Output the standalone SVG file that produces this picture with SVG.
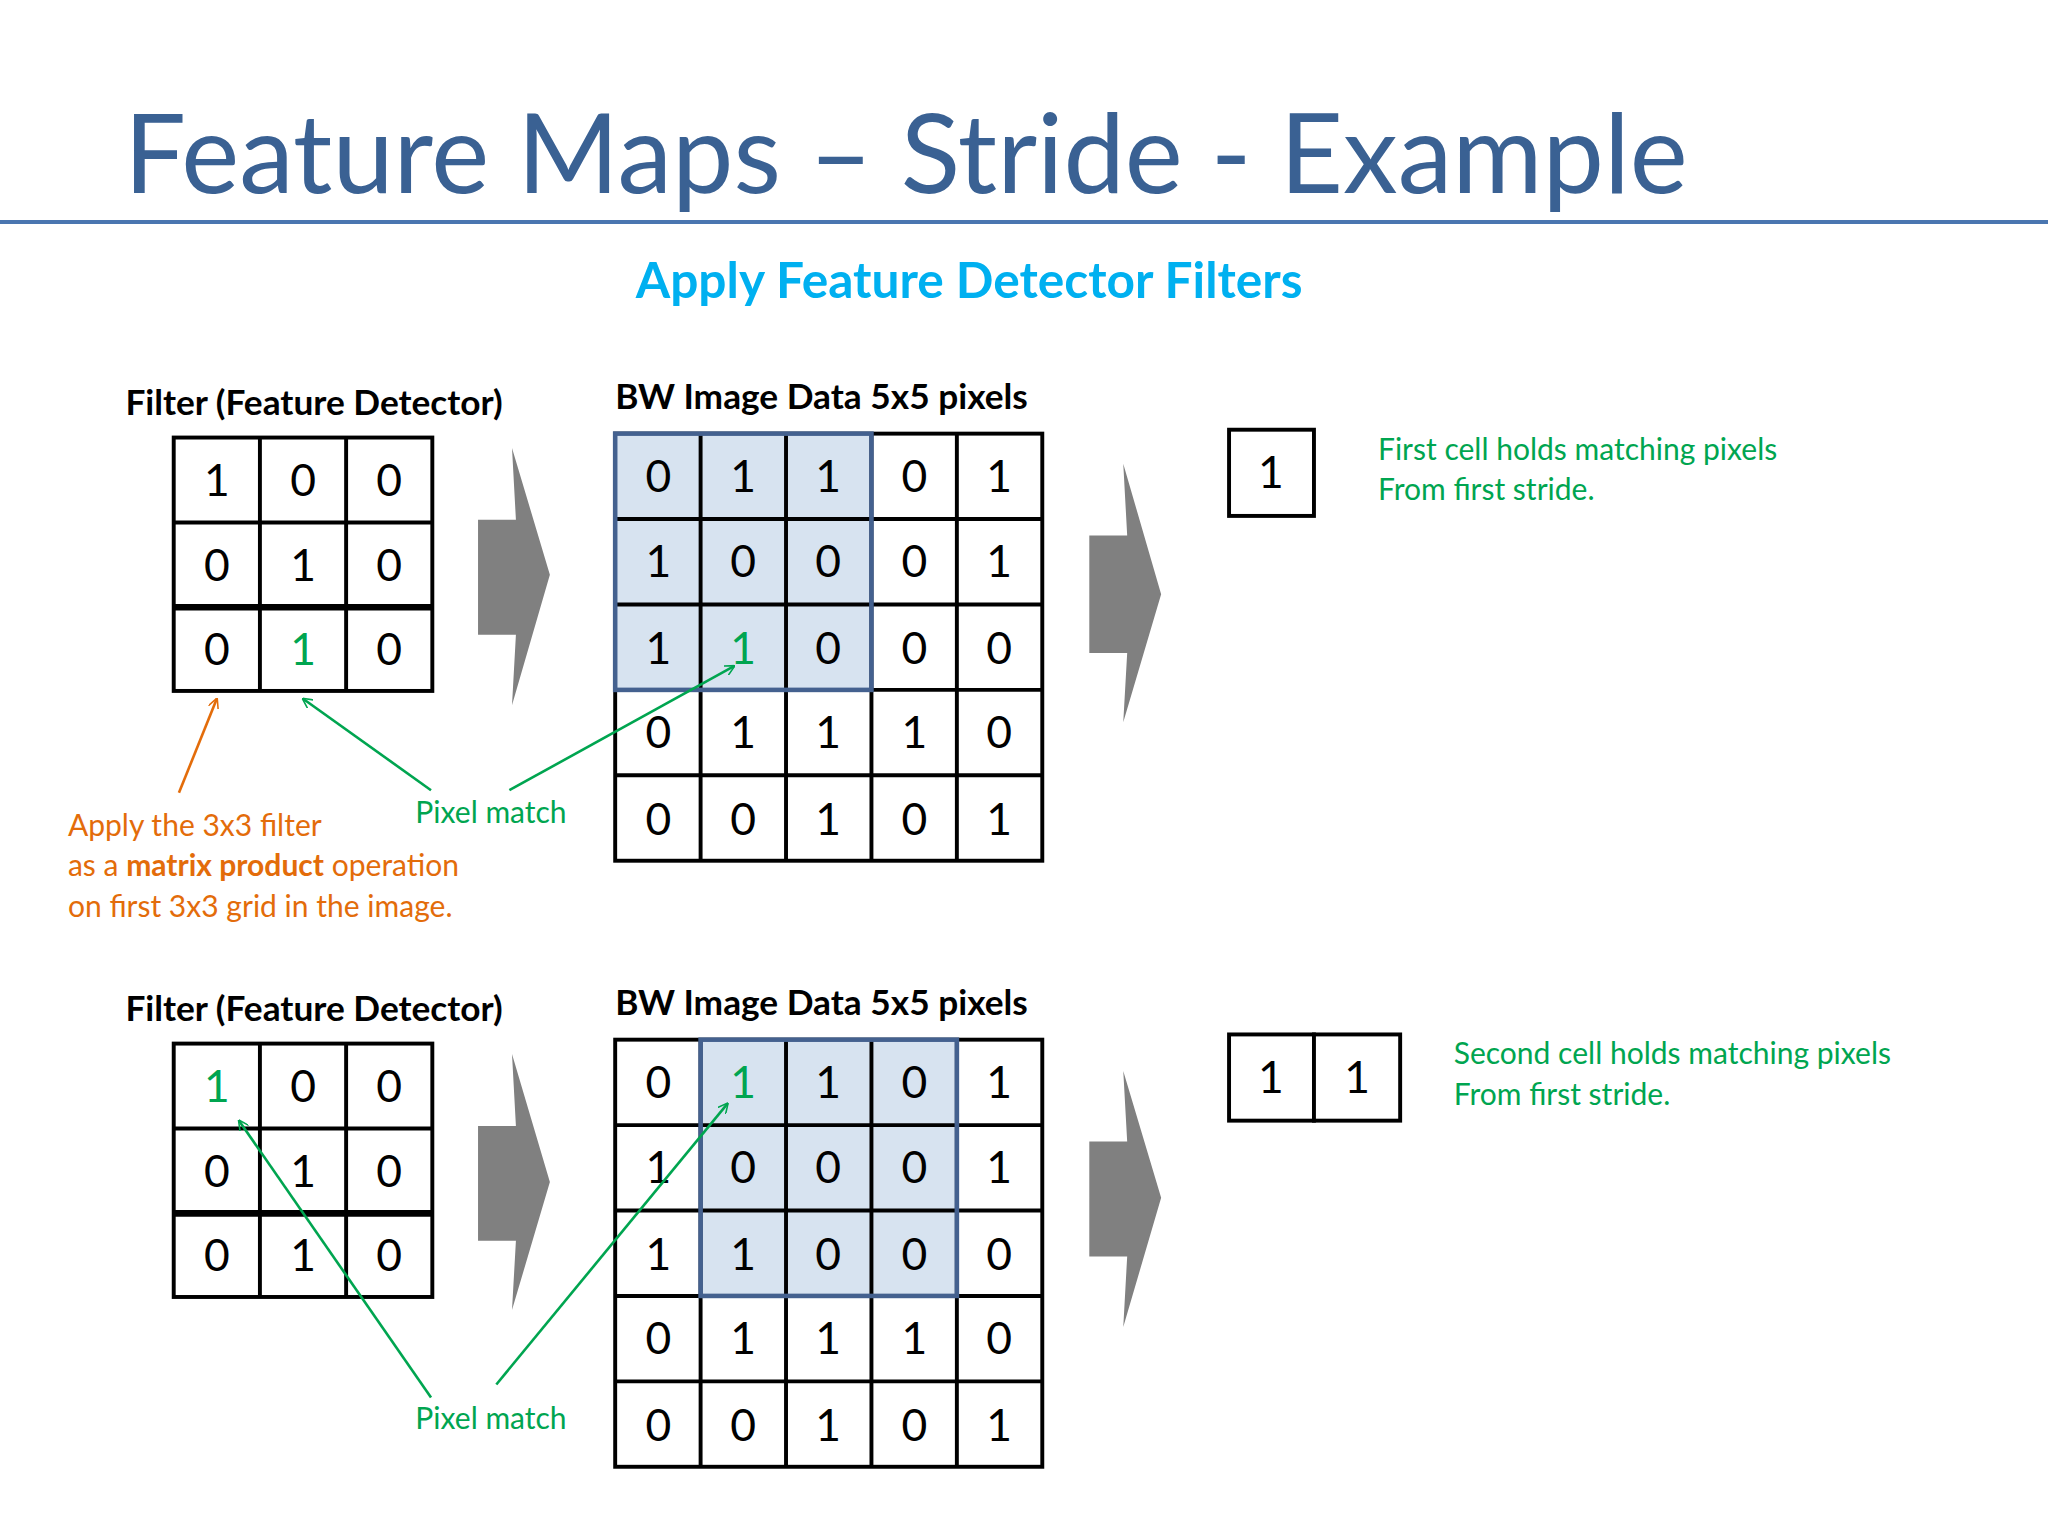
<svg xmlns="http://www.w3.org/2000/svg" width="2048" height="1536" viewBox="0 0 2048 1536">
<defs>
<style>
.t{font-family:Lato,"Open Sans",sans-serif}
.n{font-family:Lato,"Open Sans",sans-serif;font-size:34px;text-anchor:middle;fill:#000}
.g{fill:#00a550}
.c{fill:#fff;stroke:#000;stroke-width:3}
.hl{fill:#d7e3f0}
.hb{fill:none;stroke:#44618f;stroke-width:3.5}
.ar{fill:#808080}
.gl{stroke:#00a550;stroke-width:2;fill:none}
.lb{font-family:Lato,"Open Sans",sans-serif;font-size:27px;font-weight:bold}
.gt{font-family:Lato,"Open Sans",sans-serif;font-size:23px;fill:#00a550}
.ot{font-family:Lato,"Open Sans",sans-serif;font-size:23px;fill:#e36c0a}
</style>
<marker id="ag" viewBox="0 0 10 10" refX="9" refY="5" markerWidth="8" markerHeight="8" orient="auto" markerUnits="userSpaceOnUse"><path d="M0,0 L10,5 L0,10" fill="none" stroke="#00a550" stroke-width="1.5"/></marker>
<marker id="ao" viewBox="0 0 10 10" refX="9" refY="5" markerWidth="8" markerHeight="8" orient="auto" markerUnits="userSpaceOnUse"><path d="M0,0 L10,5 L0,10" fill="none" stroke="#e36c0a" stroke-width="1.5"/></marker>
</defs>
<rect width="2048" height="1536" fill="#fff"/>
<g transform="scale(1.30612)">
<g id="title">
<text class="t" x="95" y="148" font-size="84" fill="#3a6193">Feature Maps – Stride - Example</text>
<line x1="0" y1="170" x2="1568" y2="170" stroke="#4a76b0" stroke-width="3"/>
<text class="t" x="742" y="228" font-size="38" font-weight="bold" fill="#00b0f0" text-anchor="middle">Apply Feature Detector Filters</text>
</g>

<!-- Panel 1 -->
<g id="filter1">
<text class="lb" x="96" y="318">Filter (Feature Detector)</text>
<rect class="c" x="133" y="335" width="198" height="194"/>
<line x1="199" y1="335" x2="199" y2="529" stroke="#000" stroke-width="3"/>
<line x1="265" y1="335" x2="265" y2="529" stroke="#000" stroke-width="3"/>
<line x1="133" y1="400" x2="331" y2="400" stroke="#000" stroke-width="3"/>
<line x1="133" y1="465" x2="331" y2="465" stroke="#000" stroke-width="5"/>
<text class="n" x="166" y="380">1</text><text class="n" x="232" y="380">0</text><text class="n" x="298" y="380">0</text>
<text class="n" x="166" y="445">0</text><text class="n" x="232" y="445">1</text><text class="n" x="298" y="445">0</text>
<text class="n" x="166" y="509">0</text><text class="n g" x="232" y="509">1</text><text class="n" x="298" y="509">0</text>
</g>
<g id="image1">
<text class="lb" x="471" y="313">BW Image Data 5x5 pixels</text>
<rect class="c" x="471" y="332" width="327" height="327"/>
<rect class="hl" x="471" y="332" width="196" height="196"/>
<g stroke="#000" stroke-width="3">
<line x1="536.4" y1="332" x2="536.4" y2="659"/><line x1="601.8" y1="332" x2="601.8" y2="659"/><line x1="667.2" y1="332" x2="667.2" y2="659"/><line x1="732.6" y1="332" x2="732.6" y2="659"/>
<line x1="471" y1="397.4" x2="798" y2="397.4"/><line x1="471" y1="462.8" x2="798" y2="462.8"/><line x1="471" y1="528.2" x2="798" y2="528.2"/><line x1="471" y1="593.6" x2="798" y2="593.6"/>
</g>
<rect class="hb" x="471" y="332" width="196.2" height="196.2"/>
<text class="n" x="504" y="377">0</text><text class="n" x="569" y="377">1</text><text class="n" x="634" y="377">1</text><text class="n" x="700" y="377">0</text><text class="n" x="765" y="377">1</text>
<text class="n" x="504" y="442">1</text><text class="n" x="569" y="442">0</text><text class="n" x="634" y="442">0</text><text class="n" x="700" y="442">0</text><text class="n" x="765" y="442">1</text>
<text class="n" x="504" y="508">1</text><text class="n g" x="569" y="508">1</text><text class="n" x="634" y="508">0</text><text class="n" x="700" y="508">0</text><text class="n" x="765" y="508">0</text>
<text class="n" x="504" y="573">0</text><text class="n" x="569" y="573">1</text><text class="n" x="634" y="573">1</text><text class="n" x="700" y="573">1</text><text class="n" x="765" y="573">0</text>
<text class="n" x="504" y="639">0</text><text class="n" x="569" y="639">0</text><text class="n" x="634" y="639">1</text><text class="n" x="700" y="639">0</text><text class="n" x="765" y="639">1</text>
</g>
<g id="arrows1">
<path class="ar" d="M366,398 H395 L392,343 L421,440 L392,540 L395,486 H366 Z"/>
<path class="ar" d="M834,410 H863 L860,355 L889,455 L860,553 L863,500 H834 Z"/>
</g>
<g id="result1">
<rect class="c" x="941" y="329" width="65" height="66"/>
<text class="n" x="973" y="374">1</text>
<text class="gt" x="1055" y="352">First cell holds matching pixels</text>
<text class="gt" x="1055" y="383">From first stride.</text>
</g>
<g id="notes1">
<text class="ot" x="52" y="640">Apply the 3x3 filter</text>
<text class="ot" x="52" y="671">as a <tspan font-weight="bold">matrix product</tspan> operation</text>
<text class="ot" x="52" y="702">on first 3x3 grid in the image.</text>
<text class="gt" x="318" y="630">Pixel match</text>
</g>

<!-- Panel 2 -->
<g id="filter2">
<text class="lb" x="96" y="782">Filter (Feature Detector)</text>
<rect class="c" x="133" y="799" width="198" height="194"/>
<line x1="199" y1="799" x2="199" y2="993" stroke="#000" stroke-width="3"/>
<line x1="265" y1="799" x2="265" y2="993" stroke="#000" stroke-width="3"/>
<line x1="133" y1="864" x2="331" y2="864" stroke="#000" stroke-width="3"/>
<line x1="133" y1="929" x2="331" y2="929" stroke="#000" stroke-width="5"/>
<text class="n g" x="166" y="844">1</text><text class="n" x="232" y="844">0</text><text class="n" x="298" y="844">0</text>
<text class="n" x="166" y="909">0</text><text class="n" x="232" y="909">1</text><text class="n" x="298" y="909">0</text>
<text class="n" x="166" y="973">0</text><text class="n" x="232" y="973">1</text><text class="n" x="298" y="973">0</text>
</g>
<g id="image2">
<text class="lb" x="471" y="777">BW Image Data 5x5 pixels</text>
<rect class="c" x="471" y="796" width="327" height="327"/>
<rect class="hl" x="536.4" y="796" width="196.2" height="196.2"/>
<g stroke="#000" stroke-width="3">
<line x1="536.4" y1="796" x2="536.4" y2="1123"/><line x1="601.8" y1="796" x2="601.8" y2="1123"/><line x1="667.2" y1="796" x2="667.2" y2="1123"/><line x1="732.6" y1="796" x2="732.6" y2="1123"/>
<line x1="471" y1="861.4" x2="798" y2="861.4"/><line x1="471" y1="926.8" x2="798" y2="926.8"/><line x1="471" y1="992.2" x2="798" y2="992.2"/><line x1="471" y1="1057.6" x2="798" y2="1057.6"/>
</g>
<rect class="hb" x="536.4" y="796" width="196.2" height="196.2"/>
<text class="n" x="504" y="841">0</text><text class="n g" x="569" y="841">1</text><text class="n" x="634" y="841">1</text><text class="n" x="700" y="841">0</text><text class="n" x="765" y="841">1</text>
<text class="n" x="504" y="906">1</text><text class="n" x="569" y="906">0</text><text class="n" x="634" y="906">0</text><text class="n" x="700" y="906">0</text><text class="n" x="765" y="906">1</text>
<text class="n" x="504" y="972">1</text><text class="n" x="569" y="972">1</text><text class="n" x="634" y="972">0</text><text class="n" x="700" y="972">0</text><text class="n" x="765" y="972">0</text>
<text class="n" x="504" y="1037">0</text><text class="n" x="569" y="1037">1</text><text class="n" x="634" y="1037">1</text><text class="n" x="700" y="1037">1</text><text class="n" x="765" y="1037">0</text>
<text class="n" x="504" y="1103">0</text><text class="n" x="569" y="1103">0</text><text class="n" x="634" y="1103">1</text><text class="n" x="700" y="1103">0</text><text class="n" x="765" y="1103">1</text>
</g>
<g id="arrows2">
<path class="ar" d="M366,862 H395 L392,807 L421,905 L392,1003 L395,950 H366 Z"/>
<path class="ar" d="M834,874 H863 L860,820 L889,917 L860,1016 L863,962 H834 Z"/>
</g>
<g id="result2">
<rect class="c" x="941" y="792" width="65" height="66"/>
<rect class="c" x="1006" y="792" width="66" height="66"/>
<text class="n" x="973" y="837">1</text>
<text class="n" x="1039" y="837">1</text>
<text class="gt" x="1113" y="815">Second cell holds matching pixels</text>
<text class="gt" x="1113" y="846">From first stride.</text>
</g>
<g id="notes2">
<text class="gt" x="318" y="1094">Pixel match</text>
</g>

<g id="connectors">
<line x1="137" y1="607" x2="166" y2="535" stroke="#e36c0a" stroke-width="2" marker-end="url(#ao)"/>
<line class="gl" x1="330" y1="605" x2="232" y2="535" marker-end="url(#ag)"/>
<line class="gl" x1="390" y1="605" x2="562" y2="510" marker-end="url(#ag)"/>
<line class="gl" x1="330" y1="1070" x2="183" y2="858" marker-end="url(#ag)"/>
<line class="gl" x1="380" y1="1060" x2="557" y2="845" marker-end="url(#ag)"/>
</g>
</g>
</svg>
